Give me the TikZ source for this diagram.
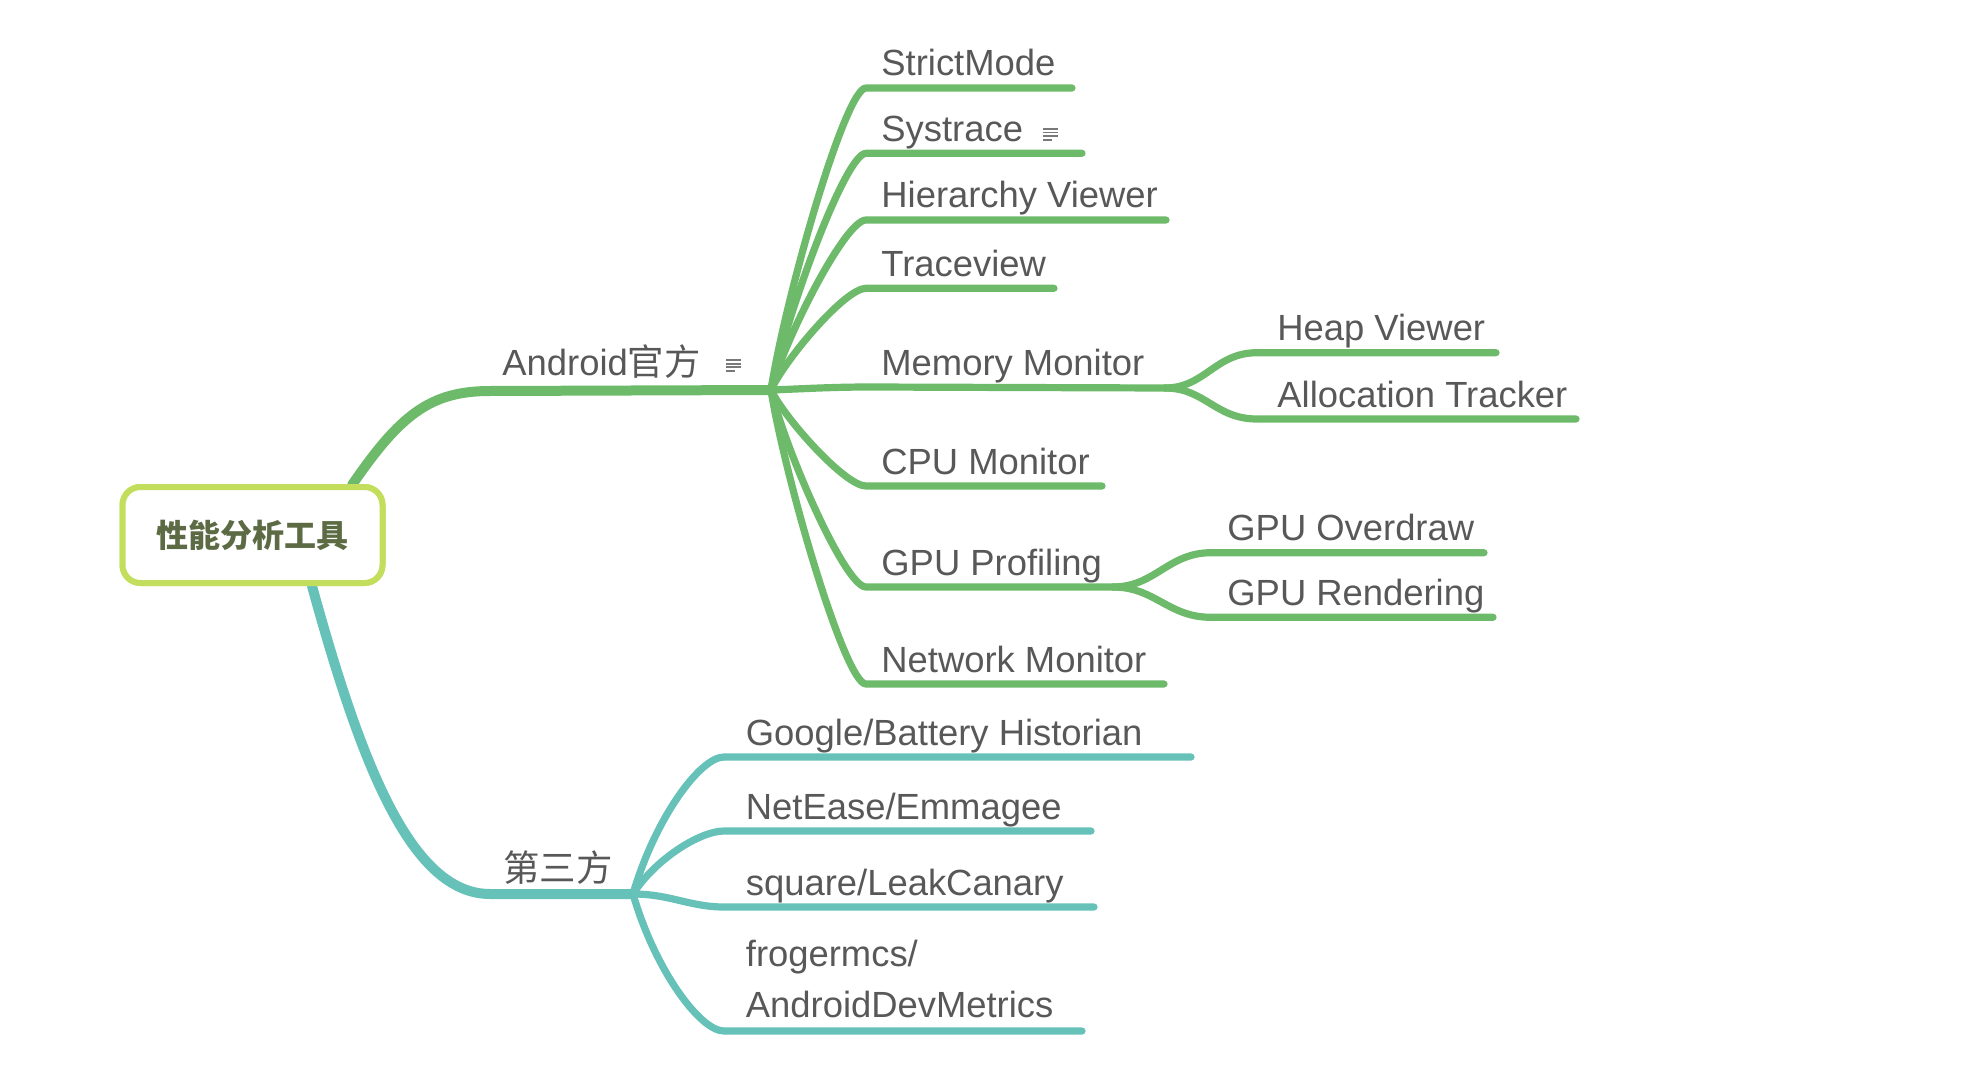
\documentclass[tikz,border=0pt]{standalone}
\usepackage{fontspec}
\setmainfont{Liberation Sans}
\newfontfamily\cjk{Noto Sans CJK SC}
\definecolor{brgreen}{HTML}{6DBA6A}
\definecolor{brteal}{HTML}{66C1B9}
\definecolor{rootborder}{HTML}{C3DE5C}
\definecolor{roottext}{HTML}{5D6B45}
\definecolor{labeltext}{HTML}{585858}
\newcommand\mynoteicon[1]{%
  \begin{scope}[shift={#1}]
    \draw[labeltext!80,line width=0.9pt] (0,0) -- (15,0) (0,3.6) -- (15,3.6) (0,7.2) -- (15,7.2) (0,10.8) -- (9,10.8);
  \end{scope}}
\tikzset{
  trunk/.style={line width=5pt,line cap=round,line join=round},
  leaf/.style={line width=3.6pt,line cap=round,line join=round},
  lbl/.style={anchor=base west,inner sep=0pt,text=labeltext,font=\fontsize{18.2pt}{22pt}\selectfont},
  rootbox/.style={draw=rootborder,line width=3pt,rounded corners=9pt,fill=white,minimum width=130pt,minimum height=48pt,inner sep=0pt,text=roottext,font=\cjk\bfseries\fontsize{16pt}{18pt}\selectfont}
}
\begin{document}
\begin{tikzpicture}[x=0.5pt,y=-0.5pt]
\useasboundingbox (0,0) rectangle (1979,1075);
% root
\node[rootbox] (root) at (252.5,535) {性能分析工具};
% hubs and corners
\coordinate (ahub) at (771,390);
\coordinate (acorner) at (490,391);
\coordinate (thub) at (633,894);
\coordinate (tcorner) at (490,894);
\coordinate (rootTop) at (352,485);
\coordinate (rootBot) at (312,586);
% ---------- green trunk
\draw[brgreen,trunk] (rootTop) .. controls (400,415) and (430,391) .. (acorner) -- (ahub);
\node[lbl] (android) at (502,375) {Android{\cjk 官方}};
\mynoteicon{(726,360)}
% ---------- green children
\foreach \nm/\y/\xe/\txt in {sm/88/1072/StrictMode, sy/153.3/1082/Systrace, hv/220/1166/Hierarchy Viewer, tv/288.3/1054/Traceview}{
  \coordinate (c\nm) at (866,\y);
  \coordinate (e\nm) at (\xe,\y);
  \draw[brgreen,leaf] (ahub) .. controls (785,{390-0.3*(390-\y)}) and (845,\y) .. (c\nm) -- (e\nm);
  \node[lbl] (t\nm) at (881,\y-12) {\txt};
}
\mynoteicon{(1043,129)}
\foreach \nm/\y/\xe/\txt in {cpu/486/1102/CPU Monitor, net/684/1164/Network Monitor}{
  \coordinate (c\nm) at (866,\y);
  \coordinate (e\nm) at (\xe,\y);
  \draw[brgreen,leaf] (ahub) .. controls (785,{390+0.3*(\y-390)}) and (845,\y) .. (c\nm) -- (e\nm);
  \node[lbl] (t\nm) at (881,\y-12) {\txt};
}
% GPU profiling
\coordinate (cgpu) at (866,587);
\coordinate (gpuhub) at (1113,587);
\draw[brgreen,leaf] (ahub) .. controls (785,449) and (845,587) .. (cgpu) -- (gpuhub);
\node[lbl] (tgpu) at (881,575) {GPU Profiling};
% Memory monitor
\coordinate (memhub) at (1165,388);
\draw[brgreen,leaf] (ahub) .. controls (800,389) and (830,387) .. (870,387) -- (memhub);
\node[lbl] (tmem) at (881,375) {Memory Monitor};
% memory sub
\foreach \nm/\y/\xe/\txt in {hp/352.7/1496/Heap Viewer, at/419/1576/Allocation Tracker}{
  \coordinate (c\nm) at (1257,\y);
  \coordinate (e\nm) at (\xe,\y);
  \draw[brgreen,leaf] (memhub) .. controls (1205,388) and (1215,\y) .. (c\nm) -- (e\nm);
  \node[lbl] (t\nm) at (1277,\y-12) {\txt};
}
% gpu sub
\foreach \nm/\y/\xe/\txt in {od/552.7/1484/GPU Overdraw, gr/617.3/1493/GPU Rendering}{
  \coordinate (c\nm) at (1211,\y);
  \coordinate (e\nm) at (\xe,\y);
  \draw[brgreen,leaf] (gpuhub) .. controls (1155,587) and (1168,\y) .. (c\nm) -- (e\nm);
  \node[lbl] (t\nm) at (1227,\y-12) {\txt};
}
% ---------- teal trunk
\draw[brteal,trunk] (rootBot) .. controls (360,760) and (410,894) .. (tcorner) -- (thub);
\node[lbl] (third) at (503,881) {\cjk 第三方};
% teal children
\foreach \nm/\y/\xe/\txt in {gb/757/1191/{Google/Battery Historian}, ne/831/1091/{NetEase/Emmagee}}{
  \coordinate (c\nm) at (724,\y);
  \coordinate (e\nm) at (\xe,\y);
  \draw[brteal,leaf] (thub) .. controls (655,{894-0.55*(894-\y)}) and (700,\y) .. (c\nm) -- (e\nm);
  \node[lbl] (t\nm) at (745.5,\y-12) {\txt};
}
\coordinate (csq) at (724,907);
\coordinate (esq) at (1094,907);
\draw[brteal,leaf] (thub) .. controls (670,894) and (690,907) .. (csq) -- (esq);
\node[lbl] (tsq) at (745.5,895) {square/LeakCanary};
\coordinate (cfr) at (724,1031);
\coordinate (efr) at (1082,1031);
\draw[brteal,leaf] (thub) .. controls (655,970) and (700,1031) .. (cfr) -- (efr);
\node[lbl] (tfr1) at (745.5,966) {frogermcs/};
\node[lbl] (tfr2) at (745.5,1017) {AndroidDevMetrics};
% redraw root on top
\node[rootbox] at (root) {性能分析工具};
\end{tikzpicture}
\end{document}
